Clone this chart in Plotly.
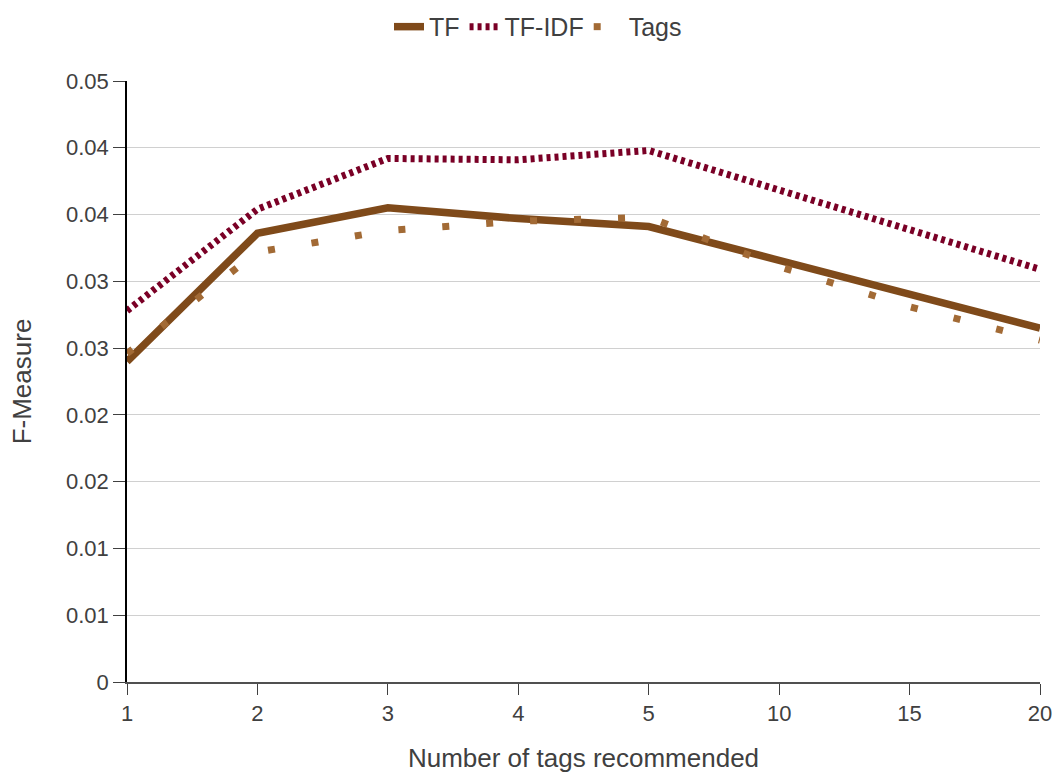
import plotly.graph_objects as go

# Number of recommended tags (categorical x axis)
n_tags = ["1", "2", "3", "4", "5", "10", "15", "20"]

# F-Measure per method
tf = [0.0240, 0.0336, 0.0355, 0.0347, 0.0341, 0.0316, 0.0291, 0.0265]
tf_idf = [0.0278, 0.0354, 0.0392, 0.0391, 0.0398, 0.0368, 0.0339, 0.0309]
tags = [0.0246, 0.0322, 0.0338, 0.0345, 0.0348, 0.0311, 0.0281, 0.0256]

y_ticks = [0, 0.005, 0.010, 0.015, 0.020, 0.025, 0.030, 0.035, 0.040, 0.045]
y_tick_labels = ["0", "0.01", "0.01", "0.02", "0.02", "0.03", "0.03", "0.04", "0.04", "0.05"]

fig = go.Figure()
fig.add_trace(go.Scatter(
    x=n_tags, y=tf, name="TF", mode="lines",
    line=dict(color="#7f4a1a", width=7.5),
))
fig.add_trace(go.Scatter(
    x=n_tags, y=tf_idf, name="TF-IDF", mode="lines",
    line=dict(color="#7a0026", width=7, dash="4px,4px"),
))
fig.add_trace(go.Scatter(
    x=n_tags, y=tags, name="Tags", mode="lines",
    line=dict(color="#a26a35", width=7, dash="7px,37px"),
))

font_family = "Liberation Sans, Arial, sans-serif"
fig.update_layout(
    width=1057, height=774,
    margin=dict(l=127, r=17, t=81, b=92, autoexpand=False),
    plot_bgcolor="white", paper_bgcolor="white",
    font=dict(family=font_family, color="#404040", size=22),
    showlegend=True,
    legend=dict(
        orientation="h", xref="container", x=0.509, xanchor="center",
        y=1.09, yanchor="middle",
        font=dict(size=25, color="#404040"),
        traceorder="normal",
    ),
    xaxis=dict(
        type="category", range=[0, 7], automargin=False,
        showgrid=False, showline=True, linecolor="#505050", linewidth=1.5,
        ticks="outside", ticklen=11, tickcolor="#404040",
        tickfont=dict(size=22),
        title=dict(text="Number of tags recommended", font=dict(size=26), standoff=24),
        zeroline=False,
    ),
    yaxis=dict(
        range=[0, 0.045], automargin=False,
        tickvals=y_ticks, ticktext=y_tick_labels,
        showgrid=True, gridcolor="#d0d0d0", gridwidth=1,
        showline=True, linecolor="#000000", linewidth=1.5,
        ticks="outside", ticklen=12, tickcolor="#404040",
        tickfont=dict(size=22),
        title=dict(text="F-Measure", font=dict(size=26), standoff=27),
        zeroline=False,
    ),
)

fig.write_html("out.html")
